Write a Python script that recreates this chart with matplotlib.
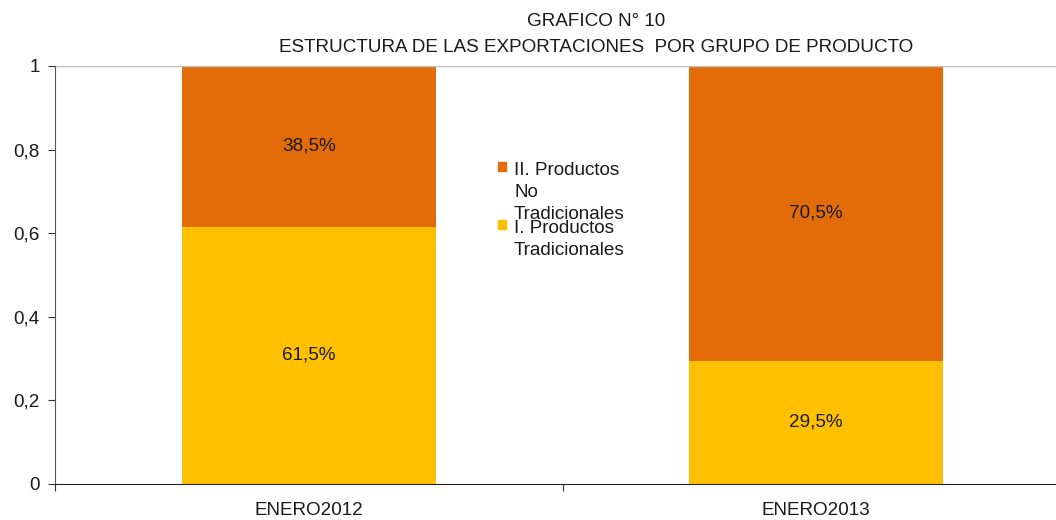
import matplotlib
matplotlib.use("Agg")
import matplotlib.pyplot as plt
from matplotlib.patches import Rectangle
from matplotlib.ticker import FuncFormatter

plt.rcParams['font.family'] = ['Liberation Sans', 'DejaVu Sans']

# data
periodos = ['ENERO2012', 'ENERO2013']
tradicionales = [0.615, 0.295]
no_tradicionales = [0.385, 0.705]
series_nombres = ['II. Productos\nNo\nTradicionales', 'I. Productos\nTradicionales']
col_trad = '#FFC000'
col_notrad = '#E36C0A'
fs = 13.6

fig = plt.figure(figsize=(10.56, 5.2), dpi=100)
ax = fig.add_axes([55/1056, 36/520, 1015/1056, 418/520])

x = range(len(periodos))
b1 = ax.bar(x, tradicionales, width=0.5, color=col_trad)
b2 = ax.bar(x, no_tradicionales, width=0.5, bottom=tradicionales, color=col_notrad)

fmt = lambda v: ('%.1f%%' % (v * 100)).replace('.', ',')
ax.bar_label(b1, labels=[fmt(v) for v in tradicionales], label_type='center', fontsize=fs, color='#1a1a1a')
ax.bar_label(b2, labels=[fmt(v) for v in no_tradicionales], label_type='center', fontsize=fs, color='#1a1a1a')

ax.set_xlim(-0.5, 1.5)
ax.set_ylim(0, 1)
ax.axhline(1, color='#bfbfbf', lw=1)

ax.set_yticks([0, 0.2, 0.4, 0.6, 0.8, 1])
ax.yaxis.set_major_formatter(FuncFormatter(lambda v, p: ('%g' % v).replace('.', ',')))
ax.tick_params(axis='y', labelsize=fs, length=5, pad=6, direction='out', colors='#333333', labelcolor='#1a1a1a')

ax.set_xticks([-0.5, 0.5, 1.5])
ax.set_xticklabels([])
ax.set_xticks([0, 1], minor=True)
ax.set_xticklabels(periodos, minor=True)
ax.tick_params(axis='x', which='major', length=5, direction='out', colors='#333333')
ax.tick_params(axis='x', which='minor', length=0, pad=13, labelsize=fs, labelcolor='#1a1a1a')

for s in ['top', 'right']:
    ax.spines[s].set_visible(False)
ax.spines['left'].set_color('#555555')
ax.spines['bottom'].set_color('#222222')

fig.text(596/1056, 1 - 22/520, 'GRAFICO N° 10', ha='center', va='center', fontsize=fs, color='#1a1a1a')
fig.text(596/1056, 1 - 47/520, 'ESTRUCTURA DE LAS EXPORTACIONES  POR GRUPO DE PRODUCTO',
         ha='center', va='center', fontsize=fs, color='#1a1a1a')

# legend drawn by hand (entries overlap in the original)
leg_y = [167, 225]
for col, nombre, yy in zip([col_notrad, col_trad], series_nombres, leg_y):
    fig.patches.append(Rectangle((498/1056, 1 - (yy + 4)/520), 8/1056, 9/520,
                                 transform=fig.transFigure, color=col))
    fig.text(514/1056, 1 - (yy - 5)/520, nombre, ha='left', va='top', fontsize=fs,
             color='#1a1a1a', linespacing=1.38)

fig.savefig('out.png', dpi=100)
